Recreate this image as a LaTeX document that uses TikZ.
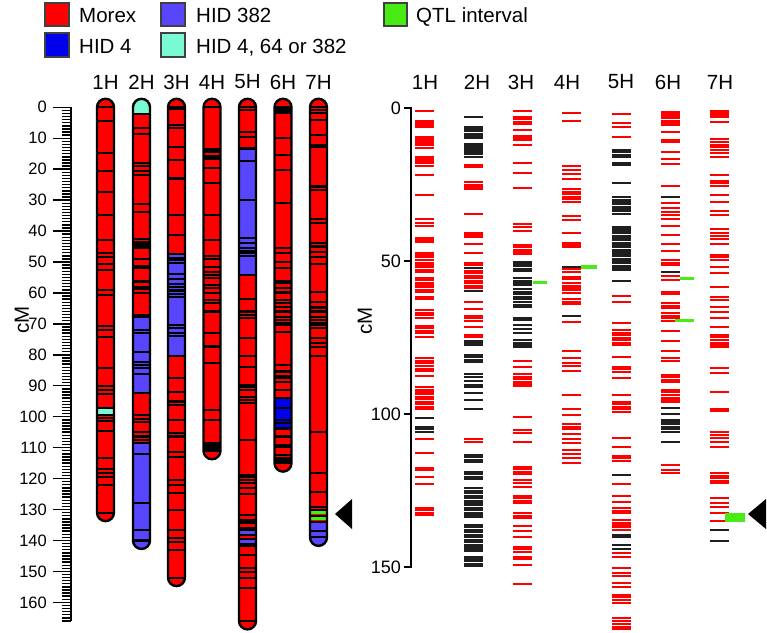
\documentclass[tikz,border=0pt]{standalone}
\usepackage{fontspec}
\setmainfont{Liberation Sans}
\usepackage{xcolor}
\usepackage{tikz}

\definecolor{morexred}{RGB}{255,0,0}
\definecolor{hidpurple}{RGB}{88,70,255}
\definecolor{hidblue}{RGB}{0,0,235}
\definecolor{hidaqua}{RGB}{122,250,212}
\definecolor{qtlgreen}{RGB}{72,235,20}

\begin{document}
\begin{tikzpicture}[
  x=1pt, y=-1pt,
  lab/.style={font=\fontsize{20.5}{24}\selectfont, inner sep=0pt},
  num/.style={font=\fontsize{16.5}{19}\selectfont, inner sep=0pt, anchor=east},
  rnum/.style={font=\fontsize{18}{21}\selectfont, inner sep=0pt, anchor=east},
  legbox/.style={draw=black!75, line width=1.4pt},
  axis/.style={line width=2.2pt},
  tickline/.style={line width=1.4pt},
  band/.style={line width=2.1pt, black},
  chromo/.style={draw=black, line width=2.4pt, rounded corners=8.5pt},
  chromclip/.style={rounded corners=8.5pt},
  redmark/.style={line width=2pt, morexred},
  blackmark/.style={line width=2pt, black!88},
  qtlmark/.style={line width=3.2pt, qtlgreen}
]
\useasboundingbox (0,0) rectangle (767,632);

% legend
\filldraw[legbox, fill=morexred] (45,3) rectangle (69,26);
\node[lab, anchor=base west] (legmorex) at (79,22) {Morex};
\filldraw[legbox, fill=hidblue] (45,33) rectangle (69,57);
\node[lab, anchor=base west] (leghidfour) at (79,53) {HID 4};
\filldraw[legbox, fill=hidpurple] (161,3) rectangle (185,26);
\node[lab, anchor=base west] (leghid) at (196,22) {HID 382};
\filldraw[legbox, fill=hidaqua] (161,33) rectangle (185,57);
\node[lab, anchor=base west] (leghidany) at (196,53) {HID 4, 64 or 382};
\filldraw[legbox, fill=qtlgreen] (384,3) rectangle (407,26);
\node[lab, anchor=base west] (legqtl) at (416,22) {QTL interval};

% chromosome names
\foreach \i/\cx in {1/105.5,2/141.5,3/176.5,4/212,5/247.5,6/283,7/318.5}
  \node[lab] (lh\i) at (\cx,82) {\i H};
\foreach \i/\cx in {1/425,2/477,3/521,4/567,5/621,6/668,7/720}
  \node[lab] (rh\i) at (\cx,82) {\i H};

\node[lab, rotate=90] (cmleft) at (22,320) {cM};
\node[lab, rotate=90] (cmright) at (365,321) {cM};

% left panel, y in cM
\begin{scope}[shift={(0,107.3)}, yscale=3.094]
  \draw[axis] (71,0) -- (71,166);
  \foreach \c in {0,...,166} \draw[tickline] (62,\c) -- (71,\c);
  \foreach \c in {0,10,...,160} {
    \draw[tickline] (53,\c) -- (71,\c);
    \node[num] (lt\c) at (47,\c) {\c};
  }

  % 1H
  \begin{scope}
    \clip[chromclip] (97,-2.75) rectangle (114,133.75);
    \fill[morexred] (95,-4) rectangle (116,135);
    \fill[hidaqua] (95,97.3) rectangle (116,99.4);
    \foreach \c in {0,4.3,14.9,20.6,27.3,34.8,42.9,47,48.3,50.7,52.6,59,60.8,70.7,72,74.1,84.4,90.1,91.4,92.7,97.3,99.4,100.5,101.3,104.6,113.4,117,118.3,119.4,122,131}
      \draw[band] (95,\c) -- (116,\c);
  \end{scope}
  \draw[chromo] (97,-2.75) rectangle (114,133.75);

  % 2H
  \begin{scope}
    \clip[chromclip] (133,-2.75) rectangle (150,142.75);
    \fill[morexred] (131,-4) rectangle (152,144);
    \fill[hidaqua] (131,-4) rectangle (152,2.2);
    \fill[hidpurple] (131,67.7) rectangle (152,92.4);
    \fill[hidpurple] (131,108.6) rectangle (152,144);
    \foreach \c in {2.2,6.8,8.6,17.9,19,20.6,21.9,31.3,33.7,42.7,43.4,44.3,44.8,45.6,49.1,51.3,52,56.3,58,58.8,60.1,67.1,67.7,72,73,79,82.2,83.3,84.4,86.2,92.4,99.4,100.8,101.6,104.8,106.4,107.5,108.6,112,128,136.6,140}
      \draw[band] (131,\c) -- (152,\c);
  \end{scope}
  \draw[chromo] (133,-2.75) rectangle (150,142.75);

  % 3H
  \begin{scope}
    \clip[chromclip] (168,-2.75) rectangle (185,154.75);
    \fill[morexred] (166,-4) rectangle (187,156);
    \fill[hidpurple] (166,47.5) rectangle (187,80.4);
    \foreach \c in {0,0.6,5.7,6.8,12.9,17,23,34.8,41.3,47.5,48.6,49.4,50.2,53.8,55.5,57.2,58.2,59.2,60.2,61.3,70.3,71.4,72.8,73.9,80.4,87.6,91.9,95.1,96.2,101.1,105.2,106.4,111.3,112.9,120.4,122,124.7,130.1,136.6,139.3,140.4,143,152}
      \draw[band] (166,\c) -- (187,\c);
  \end{scope}
  \draw[chromo] (168,-2.75) rectangle (185,154.75);

  % 4H
  \begin{scope}
    \clip[chromclip] (203.5,-2.75) rectangle (220.5,113.75);
    \fill[morexred] (201,-4) rectangle (223,115);
    \foreach \c in {0,13.6,14.3,15.9,16.8,19.7,24.6,34.8,42.9,48.1,49.1,51.7,53.1,54.2,55.3,57.4,58.5,60.1,62.3,63.3,66,72.8,77.3,82.7,97.8,101.1,108.6,109.2,109.8,110.4,111}
      \draw[band] (201,\c) -- (223,\c);
  \end{scope}
  \draw[chromo] (203.5,-2.75) rectangle (220.5,113.75);

  % 5H
  \begin{scope}
    \clip[chromclip] (239,-2.75) rectangle (256,168.75);
    \fill[morexred] (237,-4) rectangle (258,170);
    \fill[hidpurple] (237,13.3) rectangle (258,54.2);
    \fill[hidpurple] (237,136.6) rectangle (258,138.2);
    \fill[hidpurple] (237,139.4) rectangle (258,141.2);
    \foreach \c in {0,1,7.9,9.7,13.3,17.5,30,42.3,43.8,45.6,46.5,47.2,48,54.2,62,66,67.1,68.2,74.7,80.4,83.8,89.7,90.5,91.4,93.5,94.6,95.7,107.5,118.8,119.4,120.4,121.3,123.1,125,131.7,133.4,133.9,134.4,136,136.6,138.2,139.4,141.2,141.8,144.7,149,150.1,152.2,155.5,166}
      \draw[band] (237,\c) -- (258,\c);
  \end{scope}
  \draw[chromo] (239,-2.75) rectangle (256,168.75);

  % 6H
  \begin{scope}
    \clip[chromclip] (274.5,-2.75) rectangle (291.5,117.75);
    \fill[morexred] (272,-4) rectangle (294,119);
    \fill[hidblue] (272,94) rectangle (294,103.8);
    \foreach \c in {0,0.6,1.1,1.9,10,15.4,20.3,31,45.6,47.2,49.9,52,56.3,56.9,58.5,59.6,60.1,62.3,63.3,64.6,66,67.7,68.7,69.6,70.3,72.5,83.3,85.4,86.8,87.6,88.7,91.4,94,97.3,101.1,102.1,103.8,106.4,109.1,109.7,112.3,113.4,114,114.5,115}
      \draw[band] (272,\c) -- (294,\c);
  \end{scope}
  \draw[chromo] (274.5,-2.75) rectangle (291.5,117.75);

  % 7H
  \begin{scope}
    \clip[chromclip] (310,-2.75) rectangle (327,141.75);
    \fill[morexred] (308,-4) rectangle (329,143);
    \fill[qtlgreen] (308,130.6) rectangle (329,131.6);
    \fill[qtlgreen] (308,132.5) rectangle (329,133.5);
    \fill[hidpurple] (308,134) rectangle (329,143);
    \foreach \c in {0,0.9,1.9,4.1,8.9,12.2,12.9,25.6,26.7,36.2,37.5,44,45,46.7,48.3,50.6,59.6,62.8,64.4,65,66,67.7,68.7,69.6,70.3,71.4,74.7,76.3,77.4,80.4,104.8,118.3,124.2,129.1,130.2,132,134,136.8,139}
      \draw[band] (308,\c) -- (329,\c);
  \end{scope}
  \draw[chromo] (310,-2.75) rectangle (327,141.75);
\end{scope}

% right panel, y in cM
\begin{scope}[shift={(0,108.3)}, yscale=3.057]
  \draw[axis] (404,0) -- (411,0) -- (411,150) -- (404,150);
  \foreach \c in {50,100} \draw[tickline] (404,\c) -- (411,\c);
  \foreach \c in {0,50,100,150} \node[rnum] (rt\c) at (401,\c) {\c};

  % 1H
  \foreach \c in {0.8,4,4.7,5.3,6,9.3,10,10.7,11.5,12.1,12.9,15.8,16.6,17.3,18,18.8,21.8,28.4,36.2,37.6,38.4,42.3,43.1,43.8,47.2,48,48.8,49.6,50.5,51.3,52,52.9,53.7,55.5,56.3,57,57.8,58.6,59.3,60.1,61.6,62.4,66,66.9,67.7,68.5,71.2,72,72.7,73.4,74.9,81.8,82.7,83.4,84.3,85.2,85.8,87.5,91.1,92,92.7,93.5,94.3,95.1,96,96.7,97.6,98.4,108.2,112.9,117.6,118.3,120.5,123,130.6,131.4,132.3,133.1}
    \draw[redmark] (415,\c) -- (434,\c);
  \foreach \c in {101.2,104.2,105,105.8}
    \draw[blackmark] (415,\c) -- (434,\c);

  % 2H
  \foreach \c in {18.5,19.3,24.2,25,25.7,26.5,34.6,40.7,41.4,42.2,44.4,47.2,50.5,51.3,53.3,54,54.9,55.6,56.4,57.3,58,58.8,63.5,65.5,68,68.7,69.5,71.6,74.2,74.9,108.3,109}
    \draw[redmark] (464,\c) -- (483,\c);
  \foreach \c in {2.8,6,6.8,7.5,8.3,9,9.8,11.7,12.3,13,13.6,14.3,15,15.8,52.2,59.9,76,76.8,77.5,80.7,81.5,82.2,83,87,87.8,89.1,90.5,91.3,93.2,95.3,98.5,113.4,114.2,115,115.8,119,119.7,120.5,121.3,124.3,125.1,125.9,126.7,127.5,128.3,129.1,129.9,130.7,131.5,132.3,133.1,133.8,136.3,137.1,137.9,138.7,139.5,140.3,141.1,141.9,142.7,143.5,144.2,144.9,146.7,147.4,148.2,149,149.7}
    \draw[blackmark] (464,\c) -- (483,\c);

  % 3H
  \foreach \c in {0.8,2.9,3.6,4.4,5,7.1,8.9,9.7,10.4,12.1,18,21.3,26,38,38.7,40.1,44.7,45.5,46.2,47,47.8,82.7,84.5,86.9,87.8,88.7,89.4,90.2,90.8,100.9,105.2,106.1,109,117.2,118,118.9,119.6,121.6,122.5,123.8,126.8,127.6,128.5,129.2,132.5,133.4,134.1,136.6,138.2,140.1,143.4,144.2,145,146.7,147.4,149.4,155.6}
    \draw[redmark] (513,\c) -- (532,\c);
  \foreach \c in {50.2,51,51.7,52.5,53.2,55.6,56.4,57.1,57.9,59.2,60,60.7,61.6,62.5,63.5,64.3,65.1,68.5,69.3,70.9,72.3,73.6,75.8,76.7,77.4,78.2}
    \draw[blackmark] (513,\c) -- (532,\c);

  % 4H
  \foreach \c in {1.4,4,18.9,20.2,21.6,23,26.5,27.3,28,28.9,29.8,30.6,35.2,36.5,40.7,43.9,44.7,45.5,52.7,53.4,55.1,55.8,57.3,58,58.8,59.5,60.3,62.5,63.3,64,69.8,79.3,81.6,83.4,84.3,85.9,93.8,98.5,100.3,103.3,104.1,105,106.5,108.1,109.6,111.8,113.1,114.5,115.9}
    \draw[redmark] (562,\c) -- (581,\c);
  \foreach \c in {51.8,68}
    \draw[blackmark] (562,\c) -- (581,\c);

  % 5H
  \foreach \c in {1.9,4.7,6,9.5,61.4,63.3,70.1,72.5,73.4,74.2,75,75.8,76.7,77.4,81.3,84.5,85.3,86.2,88.1,93.8,96,96.7,97.6,98.4,99.2,108,110.7,113.7,114.5,115.3,122.9,126.7,128.9,130.9,131.6,132.4,134.7,135.5,136.3,137.1,137.9,145.6,146.7,150.5,152.1,153,155.4,156.5,159.2,160,160.8,161.7,166.8,167.7,168.7,169.6,170.4}
    \draw[redmark] (612,\c) -- (631,\c);
  \foreach \c in {13.6,14.4,15.2,15.8,17.9,18.7,24.3,29.1,29.9,30.6,31.4,32.2,32.9,33.7,34.5,56.4,120,139.6,140.3,143,144.2}
    \draw[blackmark] (612,\c) -- (631,\c);
  \foreach \c in {38.7,39.45,...,53.5}
    \draw[blackmark] (612,\c) -- (631,\c);

  % 6H
  \foreach \c in {1.1,1.9,2.5,3.3,4,4.7,5.5,7.6,10.4,11.1,14.2,16.7,18.3,25.3,30.9,32.7,33.8,34.9,36.3,38.4,41.4,44.5,46.8,49.5,50.5,51.3,54.9,56.2,60,60.7,63.8,64.7,65.4,67.1,68,68.7,69.5,72.7,76,79.3,81.8,82.7,87.2,88,88.9,89.6,92.1,92.9,93.8,94.6,95.4,96.2,116.7,118.3,119.2}
    \draw[redmark] (661,\c) -- (680,\c);
  \foreach \c in {28.9,53.4,98.1,100,101.8,102.5,103.3,104.1,104.9,105.8,109}
    \draw[blackmark] (661,\c) -- (680,\c);

  % 7H
  \foreach \c in {0.8,1.4,2.2,2.9,4.4,10.1,10.9,12,12.8,13.6,14.5,16,21.8,23.7,24.5,25.3,28.4,30.5,33.5,34.9,39.5,40.9,41.8,42.9,44.4,48,48.7,49.6,51.8,53.8,58.6,61.8,62.7,64.9,66.5,68.7,71.4,74.2,74.9,75.8,76.7,77.4,78.2,85.1,86.7,92.7,98.2,98.9,105.8,106.9,108,109,110.9,119.4,120.2,121,121.8,122.7,127.6,129.2,130.3,132.3,135}
    \draw[redmark] (709.5,\c) -- (728.5,\c);
  \foreach \c in {137.9,141.5}
    \draw[blackmark] (709.5,\c) -- (728.5,\c);

  % QTL intervals
  \draw[qtlmark] (533,56.9) -- (547,56.9);
  \draw[qtlmark] (581,51.9) -- (597,51.9);
  \draw[qtlmark] (680,55.6) -- (694,55.6);
  \draw[qtlmark] (675,69.5) -- (694,69.5);
  \fill[qtlgreen] (725,132.3) rectangle (745,135.4);
\end{scope}

% arrowheads
\fill (335,514) -- (352,499) -- (352,529) -- cycle;
\fill (748,514) -- (766,499) -- (766,529) -- cycle;
\end{tikzpicture}
\end{document}
